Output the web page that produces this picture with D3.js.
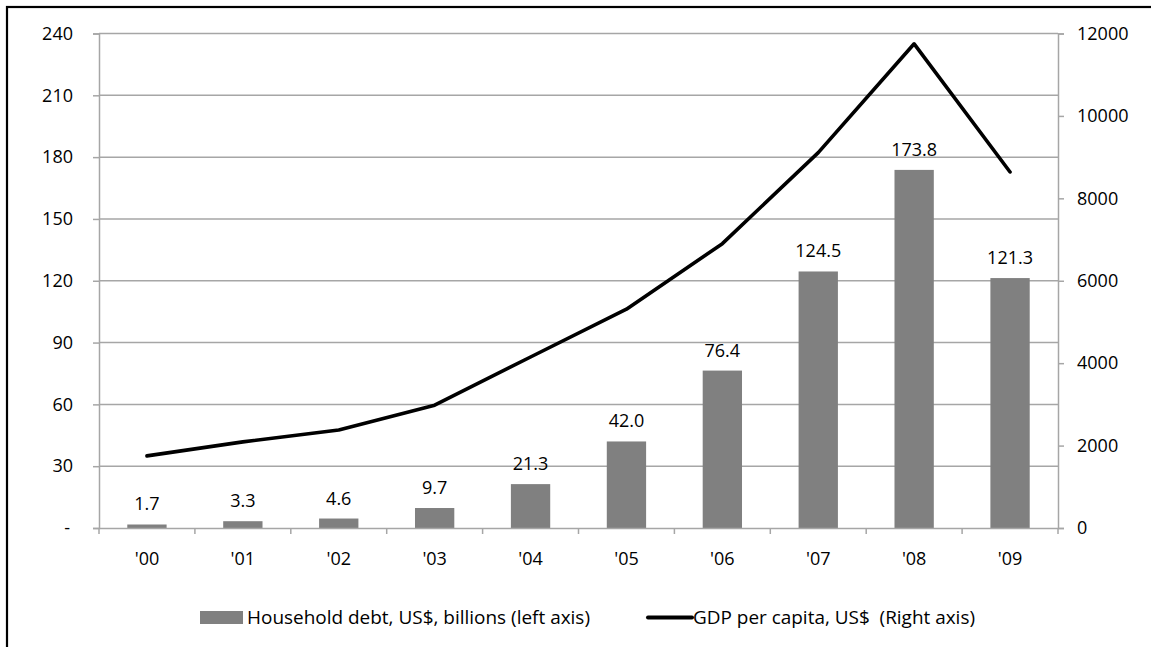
<!DOCTYPE html>
<html>
<head>
<meta charset="utf-8">
<script src="https://cdn.jsdelivr.net/npm/d3@7"></script>
<style>
  body { margin: 0; background: #fff; }
  svg { display: block; font-family: "Open Sans", "Liberation Sans", Arial, sans-serif; }
</style>
</head>
<body>
<div id="chart"></div>
<script>
var years = ["'00", "'01", "'02", "'03", "'04", "'05", "'06", "'07", "'08", "'09"];
var debt = [1.7, 3.3, 4.6, 9.7, 21.3, 42.0, 76.4, 124.5, 173.8, 121.3];
var gdp = [1750, 2090, 2380, 2980, 4150, 5310, 6900, 9110, 11750, 8640];
var leftTicks = [0, 30, 60, 90, 120, 150, 180, 210, 240];
var rightTicks = [0, 2000, 4000, 6000, 8000, 10000, 12000];
var legendLabels = ["Household debt, US$, billions (left axis)", "GDP per capita, US$  (Right axis)"];

var W = 1151, H = 647;
var margin = { top: 33.5, right: 93, bottom: 119, left: 99 };
var width = W - margin.left - margin.right;
var height = H - margin.top - margin.bottom;

var svg = d3.select("#chart")
  .append("svg")
  .attr("width", W)
  .attr("height", H);

// outer frame (top and left edges visible)
svg.append("rect")
  .attr("x", 7).attr("y", 7)
  .attr("width", W + 10).attr("height", H + 10)
  .attr("fill", "none")
  .attr("stroke", "#000")
  .attr("stroke-width", 2.2);

var g = svg.append("g")
  .attr("transform", "translate(" + margin.left + "," + margin.top + ")");

var x = d3.scaleBand().domain(years).range([0, width]).padding(0);
var yL = d3.scaleLinear().domain([0, 240]).range([height, 0]);
var yR = d3.scaleLinear().domain([0, 12000]).range([height, 0]);
var barW = x.step() * 0.41;

var gridColor = "#a6a6a6";
var fs = "18px";

// gridlines
g.selectAll(".grid")
  .data(leftTicks.slice(1))
  .enter()
  .append("line")
  .attr("x1", 0).attr("x2", width)
  .attr("y1", d => yL(d)).attr("y2", d => yL(d))
  .attr("stroke", gridColor)
  .attr("stroke-width", 1.5);

// bars
g.selectAll("rect.bar")
  .data(debt)
  .enter()
  .append("rect")
  .attr("class", "bar")
  .attr("x", (d, i) => x(years[i]) + x.bandwidth() / 2 - barW / 2)
  .attr("y", d => yL(d))
  .attr("width", barW)
  .attr("height", d => height - yL(d))
  .attr("fill", "#808080");

// bar labels
g.selectAll("text.val")
  .data(debt)
  .enter()
  .append("text")
  .attr("class", "val")
  .attr("x", (d, i) => x(years[i]) + x.bandwidth() / 2)
  .attr("y", d => yL(d) - 14)
  .attr("text-anchor", "middle")
  .attr("font-size", fs)
  .attr("fill", "#000")
  .text(d => d.toFixed(1));

// axes
function styleAxis(sel) {
  sel.select(".domain").attr("stroke", gridColor).attr("stroke-width", 1.5);
  sel.selectAll(".tick line").attr("stroke", gridColor).attr("stroke-width", 1.5);
  sel.selectAll(".tick text").attr("font-size", fs).attr("fill", "#000");
}

var axL = g.append("g")
  .call(d3.axisLeft(yL).tickValues(leftTicks).tickSize(6).tickPadding(20)
    .tickFormat(d => d === 0 ? "-" : d))
  .attr("font-family", null);
styleAxis(axL);
axL.selectAll(".tick text").filter(d => d === 0).attr("dx", "-3");

var axR = g.append("g")
  .attr("transform", "translate(" + width + ",0)")
  .call(d3.axisRight(yR).tickValues(rightTicks).tickSize(6).tickPadding(13).tickFormat(d3.format("d")))
  .attr("font-family", null);
styleAxis(axR);

var axB = g.append("g")
  .attr("transform", "translate(0," + height + ")")
  .call(d3.axisBottom(x).tickSize(0).tickPadding(24))
  .attr("font-family", null);
styleAxis(axB);

// tick marks between categories
axB.selectAll(".sep")
  .data(d3.range(years.length + 1))
  .enter()
  .append("line")
  .attr("x1", i => i * x.step()).attr("x2", i => i * x.step())
  .attr("y1", 0).attr("y2", 6)
  .attr("stroke", gridColor)
  .attr("stroke-width", 1.5);

// GDP line
var line = d3.line()
  .x((d, i) => x(years[i]) + x.bandwidth() / 2)
  .y(d => yR(d));

g.append("path")
  .datum(gdp)
  .attr("d", line)
  .attr("fill", "none")
  .attr("stroke", "#000")
  .attr("stroke-width", 3.6)
  .attr("stroke-linejoin", "round")
  .attr("stroke-linecap", "round");

// legend
var lg = svg.append("g");
lg.append("rect")
  .attr("x", 200).attr("y", 611)
  .attr("width", 43).attr("height", 13)
  .attr("fill", "#808080");
lg.append("text")
  .attr("x", 247).attr("y", 624)
  .attr("font-size", fs)
  .attr("textLength", 343)
  .attr("lengthAdjust", "spacingAndGlyphs")
  .text(legendLabels[0]);

lg.append("line")
  .attr("x1", 648).attr("x2", 692)
  .attr("y1", 617.5).attr("y2", 617.5)
  .attr("stroke", "#000")
  .attr("stroke-width", 4)
  .attr("stroke-linecap", "round");
lg.append("text")
  .attr("x", 693).attr("y", 624)
  .attr("font-size", fs)
  .attr("textLength", 282)
  .attr("lengthAdjust", "spacingAndGlyphs")
  .style("white-space", "pre")
  .text(legendLabels[1]);
</script>
</body>
</html>
